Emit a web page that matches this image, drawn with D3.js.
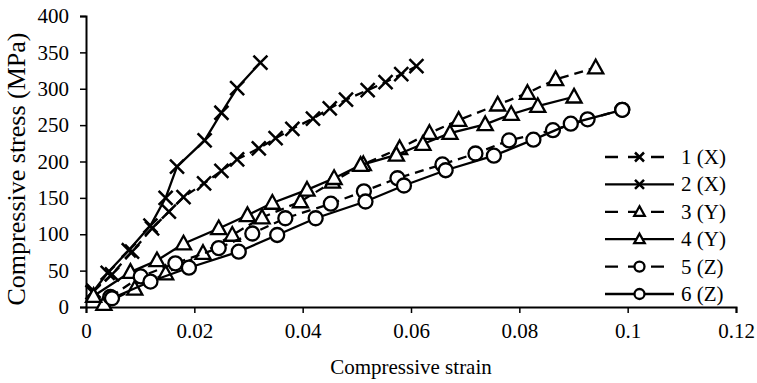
<!DOCTYPE html>
<html>
<head>
<meta charset="utf-8">
<script src="https://cdn.jsdelivr.net/npm/d3@7"></script>
<style>
  body { margin: 0; background: #fff; }
  text { font-family: "Liberation Serif", "Times New Roman", serif; fill: #000; }
</style>
</head>
<body>
<div id="chart"></div>
<script>
// each test: [strain, stress (MPa)]
var test1 = [[0.0014,22],[0.0048,45],[0.0085,76],[0.0122,108],[0.0153,131],[0.018,151],[0.0218,170],
  [0.025,187],[0.0279,203],[0.0319,218],[0.035,232],[0.0381,245],[0.0419,259],[0.045,273],
  [0.048,285],[0.052,298],[0.0553,309],[0.0582,320],[0.061,331]]
var test2 = [[0.0012,20],[0.004,47],[0.0079,78],[0.0119,112],[0.0147,150],[0.0168,193],
  [0.0219,229],[0.025,267],[0.0279,301],[0.0322,336]]
var test3 = [[0.0033,4],[0.009,25],[0.0147,46],[0.0216,74],[0.027,99],[0.0325,123],[0.0396,145],
  [0.0455,172],[0.0512,196],[0.0579,218],[0.0634,239],[0.0688,257],[0.076,278],[0.0815,294],
  [0.0867,313],[0.0941,329]]
var test4 = [[0.0014,15],[0.0082,48],[0.0131,64],[0.018,87],[0.0245,108],[0.0298,126],[0.0344,143],
  [0.0408,161],[0.0458,177],[0.0507,195],[0.0573,209],[0.0622,224],[0.0672,239],[0.0737,251],
  [0.0785,265],[0.0834,276],[0.0901,289]]
var test5 = [[0.0045,14],[0.0101,42],[0.0165,60],[0.0245,81],[0.0307,101],[0.0368,122],[0.0452,142],
  [0.0513,159],[0.0575,177],[0.0658,196],[0.0719,211],[0.0781,229],[0.0862,243],[0.0926,258],
  [0.099,271]]
var test6 = [[0.0048,12],[0.0119,35],[0.019,54],[0.0282,76],[0.0353,99],[0.0424,122],[0.0516,145],
  [0.0587,167],[0.0664,188],[0.0753,208],[0.0826,230],[0.0895,252],[0.099,271]]

var labels = ["1 (X)", "2 (X)", "3 (Y)", "4 (Y)", "5 (Z)", "6 (Z)"]
var markers = ["cross", "cross", "triangle", "triangle", "circle", "circle"]
var dashed = [true, false, true, false, true, false]
var xTicks = [0, 0.02, 0.04, 0.06, 0.08, 0.1, 0.12]
var yTicks = [0, 50, 100, 150, 200, 250, 300, 350, 400]

var series = [test1, test2, test3, test4, test5, test6]

var width = 757, height = 383
var margin = {top: 16, right: 21, bottom: 76, left: 86}

var svg = d3.select("#chart").append("svg")
    .attr("width", width)
    .attr("height", height)

var x = d3.scaleLinear().domain([0, 0.12]).range([margin.left, width - margin.right])
var y = d3.scaleLinear().domain([0, 400]).range([height - margin.bottom, margin.top])

// axes
svg.append("g")
    .attr("transform", "translate(0," + y(0) + ")")
    .call(d3.axisBottom(x).tickValues(xTicks).tickSize(6).tickPadding(10)
        .tickFormat(function(d) { return d3.format("~g")(d) }))
svg.append("g")
    .attr("transform", "translate(" + x(0) + ",0)")
    .call(d3.axisLeft(y).tickValues(yTicks).tickSize(6).tickPadding(11))

svg.selectAll(".domain").attr("stroke", "#000").attr("stroke-width", 2)
svg.selectAll(".tick line").attr("stroke", "#000").attr("stroke-width", 1.5)
svg.selectAll(".tick text")
    .style("font-family", "'Liberation Serif', 'Times New Roman', serif")
    .style("font-size", "21px")
    .attr("fill", "#000")

svg.append("text")
    .attr("x", x(0.06))
    .attr("y", 374)
    .attr("text-anchor", "middle")
    .style("font-size", "21px")
    .text("Compressive strain")

svg.append("text")
    .attr("transform", "translate(25,169) rotate(-90)")
    .attr("text-anchor", "middle")
    .style("font-size", "26px")
    .text("Compressive stress (MPa)")

var line = d3.line()
    .x(function(d) { return x(d[0]) })
    .y(function(d) { return y(d[1]) })

function drawMarker(g, type, cx, cy, s) {
    if (type == "cross") {
        g.append("path")
            .attr("d", "M" + (cx - s) + "," + (cy - s) + "L" + (cx + s) + "," + (cy + s) +
                "M" + (cx - s) + "," + (cy + s) + "L" + (cx + s) + "," + (cy - s))
            .attr("stroke", "#000")
            .attr("stroke-width", 2.5)
            .attr("fill", "none")
    } else if (type == "triangle") {
        g.append("path")
            .attr("d", "M" + cx + "," + (cy - s * 1.1) + "L" + (cx + s * 1.05) + "," + (cy + s * 0.8) +
                "L" + (cx - s * 1.05) + "," + (cy + s * 0.8) + "Z")
            .attr("stroke", "#000")
            .attr("stroke-width", 2.3)
            .attr("fill", "#fff")
    } else {
        g.append("circle")
            .attr("cx", cx)
            .attr("cy", cy)
            .attr("r", s)
            .attr("stroke", "#000")
            .attr("stroke-width", 2.3)
            .attr("fill", "#fff")
    }
}

var markerSize = {cross: 7, triangle: 7.2, circle: 7}

for (let i = 0; i < series.length; i++) {
    var g = svg.append("g")
    g.append("path")
        .datum(series[i])
        .attr("d", line)
        .attr("fill", "none")
        .attr("stroke", "#000")
        .attr("stroke-width", 2.3)
        .attr("stroke-dasharray", dashed[i] ? "9,6" : null)
    series[i].forEach(function(d) {
        drawMarker(g, markers[i], x(d[0]), y(d[1]), markerSize[markers[i]])
    })
}

// legend
var legendX = 605, legendY = 157, rowH = 27.4
var legendSize = {cross: 4.5, triangle: 5, circle: 5}
for (let i = 0; i < labels.length; i++) {
    var ly = legendY + i * rowH
    var lg = svg.append("g")
    lg.append("line")
        .attr("x1", legendX)
        .attr("x2", legendX + 69)
        .attr("y1", ly)
        .attr("y2", ly)
        .attr("stroke", "#000")
        .attr("stroke-width", 2.3)
        .attr("stroke-dasharray", dashed[i] ? "13,10" : null)
    drawMarker(lg, markers[i], legendX + 34.5, ly, legendSize[markers[i]])
    lg.append("text")
        .attr("x", legendX + 76)
        .attr("y", ly)
        .attr("dy", "0.33em")
        .style("font-size", "21px")
        .text(labels[i])
}
</script>
</body>
</html>
